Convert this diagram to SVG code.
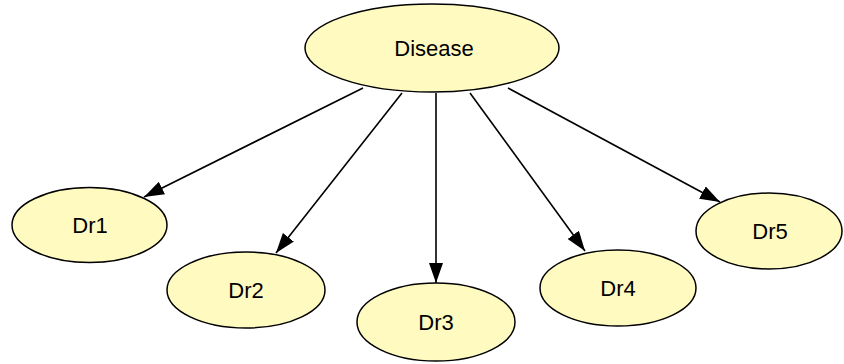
<svg xmlns="http://www.w3.org/2000/svg" width="844" height="364" viewBox="0 0 844 364">
<defs>
<marker id="arr" markerWidth="20" markerHeight="14" refX="20" refY="7" orient="auto" markerUnits="userSpaceOnUse">
<path d="M0,0 L20,7 L0,14 Z" fill="#000"/>
</marker>
<style>
.n ellipse{fill:#FFFBC0;stroke:#000;stroke-width:1.5}
.n text{font-family:"Liberation Sans",Arial,sans-serif;font-size:22px;fill:#000;text-anchor:middle}
.e line{stroke:#000;stroke-width:1.6;marker-end:url(#arr)}
</style>
</defs>
<rect width="844" height="364" fill="#fff"/>
<g id="edges" class="e">
<line x1="363" y1="88" x2="144" y2="197"/>
<line x1="402" y1="93" x2="276" y2="253"/>
<line x1="436" y1="93" x2="436" y2="283"/>
<line x1="470" y1="93" x2="585" y2="251"/>
<line x1="508" y1="88" x2="720" y2="202"/>
</g>
<g id="disease" class="n"><ellipse cx="432" cy="48" rx="127" ry="44"/><text x="434" y="55.5">Disease</text></g>
<g id="dr1" class="n"><ellipse cx="89.5" cy="225" rx="77.5" ry="37.5"/><text x="90" y="233">Dr1</text></g>
<g id="dr2" class="n"><ellipse cx="246" cy="290" rx="79" ry="38"/><text x="246" y="298">Dr2</text></g>
<g id="dr3" class="n"><ellipse cx="436" cy="322" rx="79" ry="39"/><text x="436" y="330">Dr3</text></g>
<g id="dr4" class="n"><ellipse cx="618" cy="288" rx="78" ry="38"/><text x="618" y="296">Dr4</text></g>
<g id="dr5" class="n"><ellipse cx="769" cy="231" rx="73" ry="38"/><text x="770" y="239">Dr5</text></g>
</svg>
